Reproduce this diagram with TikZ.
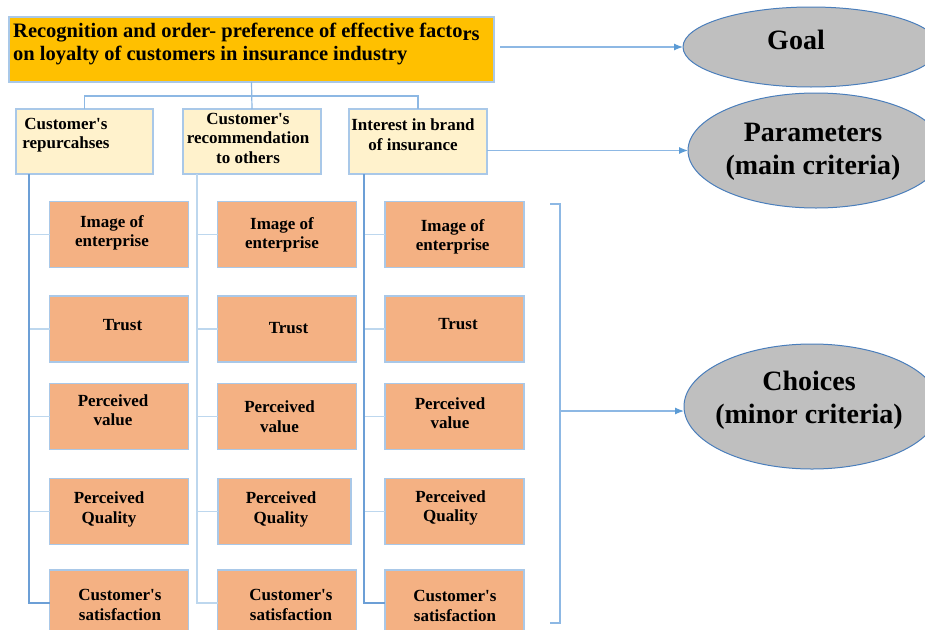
\documentclass[tikz,border=0pt]{standalone}
\usepackage{fontspec}
\setmainfont{Liberation Serif}
\usetikzlibrary{shapes.geometric,arrows.meta}
\definecolor{goldc}{HTML}{FFC000}
\definecolor{creamc}{HTML}{FFF2CC}
\definecolor{orangec}{HTML}{F4B183}
\definecolor{grayc}{HTML}{BFBFBF}
\definecolor{ovalline}{HTML}{4A7EBB}
\definecolor{boxline}{HTML}{A9C8E8}
\definecolor{lightc}{HTML}{BDD7EE}
\definecolor{darkc}{HTML}{6C9FD6}
\definecolor{arrline}{HTML}{8DB8E4}
\definecolor{arrtip}{HTML}{5B9BD5}
\newcommand\apos{\textquotesingle}
\tikzset{
  box/.style={draw=boxline, line width=1.2pt, inner sep=0pt, outer sep=0pt},
  topbox/.style={box, fill=goldc, minimum width=485pt, minimum height=65pt},
  parbox/.style={box, fill=creamc, minimum height=65pt},
  subbox/.style={box, fill=orangec, minimum height=66pt},
  oval/.style={ellipse, draw=ovalline, fill=grayc, line width=1pt, inner sep=0pt, outer sep=0pt},
  toptext/.style={font=\bfseries\fontsize{20.5}{23}\selectfont, align=left, inner sep=0pt},
  boxtext/.style={font=\bfseries\fontsize{17}{19.5}\selectfont, align=center, inner sep=0pt},
  ovaltext/.style={font=\bfseries\fontsize{28}{33}\selectfont, align=center, inner sep=0pt},
  stub/.style={draw=lightc, line width=1.5pt},
  trunk/.style={draw=darkc, line width=1.8pt},
  trunklight/.style={draw=lightc, line width=1.8pt},
  conn/.style={draw=arrline, line width=1.2pt},
  arr/.style={draw=arrline, line width=1.2pt, -{Latex[length=9pt,width=7pt,color=arrtip]}},
}
\newcommand\mysub[7]{%
  \node[subbox, minimum width=#4pt] (#1) at (#2,#3) {};
  \node[boxtext] (#1t) at (#5,#6) {#7};
}
\begin{document}
\begin{tikzpicture}[x=1pt,y=-1pt]
\useasboundingbox (0,0) rectangle (925,629);
\clip (0,0) rectangle (925,629);

% goal box
\node[topbox] (top) at (251.5,49.5) {};
\node[toptext, anchor=west] (toptxt) at (13,44)
  {Recognition and order- preference of effective facto\raisebox{-3pt}{rs}\\on loyalty of customers in insurance industry};

% parameter boxes
\node[parbox, minimum width=137pt] (p1) at (84.5,141.5) {};
\node[parbox, minimum width=138pt] (p2) at (252,141.5) {};
\node[parbox, minimum width=138pt] (p3) at (418,141.5) {};
\node[boxtext] (p1t) at (66,135) {Customer\apos s\\repurcahses};
\node[boxtext] (p2t) at (248,138) {Customer\apos s\\recommendation\\to others};
\node[boxtext] (p3t) at (413,134.5) {Interest in brand\\of insurance};

% ellipses
\node[oval, minimum width=256pt, minimum height=80pt] (goal) at (811,47) {};
\node[oval, minimum width=256pt, minimum height=115pt] (par) at (816,150.5) {};
\node[oval, minimum width=256pt, minimum height=125pt] (cho) at (812,406.5) {};
\node[ovaltext] (goalt) at (796,40) {Goal};
\node[ovaltext] (part) at (813,152) {Parameters\\(main criteria)};
\node[ovaltext] (chot) at (809,400) {Choices\\(minor criteria)};

% sub boxes column 1
\mysub{a1}{119}{234.5}{139}{112}{233}{Image of\\enterprise}
\mysub{a2}{119}{329}{139}{122.5}{325}{Trust}
\mysub{a3}{119}{416.5}{139}{113}{410}{Perceived\\value}
\mysub{a4}{119}{511.5}{139}{109}{509.5}{Perceived\\Quality}
\mysub{a5}{119}{603}{139}{120}{605}{Customer\apos s\\satisfaction}
% column 2
\mysub{b1}{287}{234.5}{139}{282}{235}{Image of\\enterprise}
\mysub{b2}{287}{329}{139}{288.5}{328}{Trust}
\mysub{b3}{287}{416.5}{139}{279.5}{416.5}{Perceived\\value}
\mysub{b4}{284.5}{511.5}{133}{281}{509.5}{Perceived\\Quality}
\mysub{b5}{287}{603}{139}{291}{605}{Customer\apos s\\satisfaction}
% column 3
\mysub{c1}{454.5}{234.5}{139}{452.7}{237}{Image of\\enterprise}
\mysub{c2}{454.5}{329}{139}{458}{324}{Trust}
\mysub{c3}{454.5}{416.5}{139}{450}{413}{Perceived\\value}
\mysub{c4}{454.5}{511.5}{139}{450.5}{508}{Perceived\\Quality}
\mysub{c5}{454.5}{603}{139}{455}{606}{Customer\apos s\\satisfaction}

% top tree connectors
\coordinate (bus) at (251.5,96);
\draw[conn] (top.south) -- (p2.north);
\draw[conn] (p1.north) |- (bus) -| (p3.north);

% column trunks
\coordinate (t1) at ([xshift=13pt]p1.south west);
\coordinate (t2) at ([xshift=14pt]p2.south west);
\coordinate (t3) at ([xshift=15pt]p3.south west);
\foreach \r in {1,2,3,4} {
  \draw[stub] (t1 |- a\r.west) -- (a\r.west);
  \draw[stub] (t2 |- b\r.west) -- (b\r.west);
  \draw[stub] (t3 |- c\r.west) -- (c\r.west);
}
\draw[trunk] (t1) |- (a5.west);
\draw[trunklight] (t2) |- (b5.west);
\draw[trunk] (t3) |- (c5.west);

% bracket
\coordinate (bt) at (560,204);
\coordinate (bb) at (560,623);
\coordinate (bm) at (560,411);
\draw[conn] ([xshift=-10pt]bt) -- (bt) -- (bb) -- ([xshift=-10pt]bb);

% arrows
\draw[arr, shorten <=6pt] (top.east |- goal.west) -- (goal.west);
\draw[arr] (p3.east |- par.west) -- (par.west);
\draw[arr] (bm) -- (bm -| cho.west);
\end{tikzpicture}
\end{document}
